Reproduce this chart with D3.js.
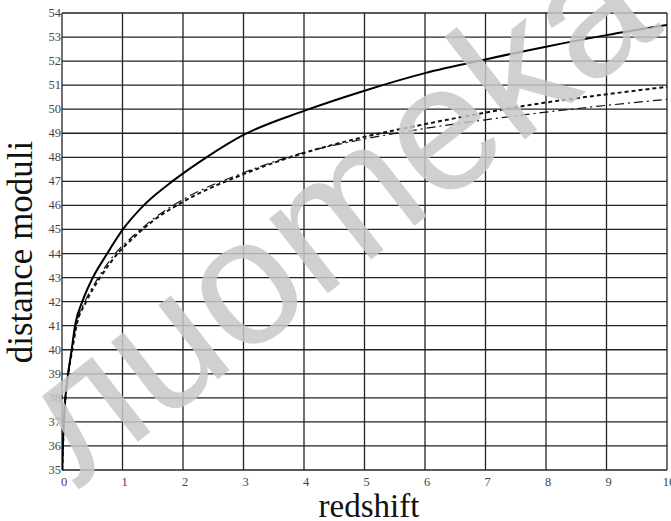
<!DOCTYPE html>
<html><head><meta charset="utf-8">
<script src="https://cdn.jsdelivr.net/npm/d3@7"></script>
<style>html,body{margin:0;padding:0;background:#fff;}svg{display:block;}</style>
</head><body>
<svg id="c" width="671" height="521"></svg>
<script>
const xTicks = [0,1,2,3,4,5,6,7,8,9,10];
const yTicks = [35,36,37,38,39,40,41,42,43,44,45,46,47,48,49,50,51,52,53,54];
const solidZ  = [0.005,0.015,0.03,0.055,0.1,0.16,0.215,0.336,0.5,0.74,1.0,1.35,1.85,2.4,3,4,5,6,7,8,9,10];
const solidMu = [35,36,37,38,39,40,41,42,42.95,43.97,44.98,46,47.05,48.02,48.93,49.93,50.77,51.5,52.07,52.6,53.08,53.5];
const dashZ   = [0.005,0.016,0.032,0.058,0.105,0.17,0.24,0.40,0.63,0.92,1.2,1.5,2,3,4,5,6,7,8,9,10];
const dashMu  = [35,36,37,38,39,40,41,42,43,44,44.7,45.35,46.15,47.3,48.18,48.85,49.38,49.86,50.28,50.62,50.93];
const dotDashZ  = [0.005,0.015,0.031,0.056,0.1,0.165,0.23,0.38,0.6,0.88,1.2,1.5,2,3,4,5,6,7,8,9,10];
const dotDashMu = [35,36,37,38,39,40,41,42,43,44,44.78,45.42,46.25,47.36,48.2,48.76,49.2,49.56,49.88,50.16,50.41];
const xTitle = "redshift";
const yTitle = "distance moduli";
const watermark = "лuomeka";

const svg = d3.select("#c");
const L = 62, R = 667, T = 13, B = 470;
const x = d3.scaleLinear().domain([0,10]).range([L,R]);
const y = d3.scaleLinear().domain([35,54]).range([B,T]);

// grid
const g = svg.append("g");
g.selectAll("line.v").data(xTicks).enter().append("line")
  .attr("x1",d=>x(d)).attr("x2",d=>x(d)).attr("y1",T).attr("y2",B)
  .attr("stroke","#222").attr("stroke-width",1.3);
g.selectAll("line.h").data(yTicks).enter().append("line")
  .attr("x1",L).attr("x2",R).attr("y1",d=>y(d)).attr("y2",d=>y(d))
  .attr("stroke","#222").attr("stroke-width",1.3);

// tick labels
svg.append("g").selectAll("text").data(xTicks).enter().append("text")
  .attr("x",d=>x(d)+2).attr("y",B+16).attr("text-anchor","middle")
  .attr("font-family","Liberation Serif, serif").attr("font-size",12.5).attr("fill","#444")
  .text(d=>d);
svg.append("g").selectAll("text").data(yTicks).enter().append("text")
  .attr("x",L-1).attr("y",d=>y(d)+4).attr("text-anchor","end")
  .attr("font-family","Liberation Serif, serif").attr("font-size",12.5).attr("fill","#444")
  .text(d=>d);

// titles
svg.append("text").attr("x",369).attr("y",517).attr("text-anchor","middle")
  .attr("font-family","Liberation Serif, serif").attr("font-size",33).attr("fill","#111").text(xTitle);
svg.append("text").attr("transform","translate(32,252) rotate(-90)").attr("text-anchor","middle")
  .attr("font-family","Liberation Serif, serif").attr("font-size",35).attr("fill","#111").text(yTitle);

// curves
svg.append("clipPath").attr("id","clip").append("rect").attr("x",L).attr("y",T).attr("width",R-L).attr("height",B-T);
const line = d3.line().x(d=>x(d[0])).y(d=>y(d[1])).curve(d3.curveMonotoneX);
const cg = svg.append("g").attr("clip-path","url(#clip)");
cg.append("path").datum(dotDashZ.map((z,i)=>[z,dotDashMu[i]])).attr("d",line)
  .attr("fill","none").attr("stroke","#111").attr("stroke-width",1.2).attr("stroke-dasharray","9,4,2,4");
cg.append("path").datum(dashZ.map((z,i)=>[z,dashMu[i]])).attr("d",line)
  .attr("fill","none").attr("stroke","#111").attr("stroke-width",2).attr("stroke-dasharray","4,3");
cg.append("path").datum(solidZ.map((z,i)=>[z,solidMu[i]])).attr("d",line)
  .attr("fill","none").attr("stroke","#000").attr("stroke-width",2);

// watermark
svg.append("text").attr("transform","translate(342,222) rotate(-38)").attr("text-anchor","middle")
  .attr("dominant-baseline","middle")
  .attr("font-family","Liberation Sans, Arial, sans-serif").attr("font-size",180)
  .attr("fill","#c8c8c8").attr("fill-opacity",0.85).text(watermark);
</script>
</body></html>
